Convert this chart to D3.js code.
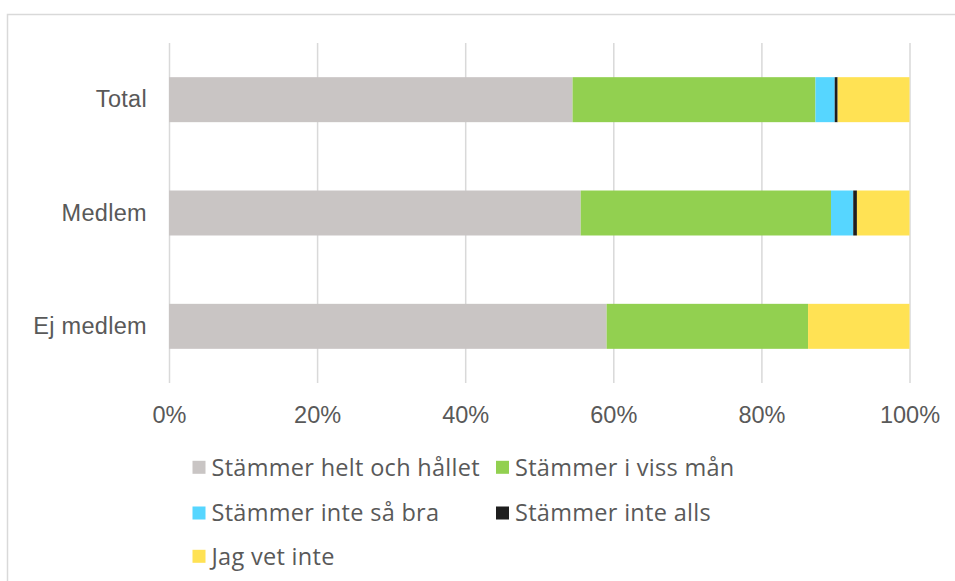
<!DOCTYPE html>
<html lang="sv">
<head>
    <meta charset="UTF-8">
    <title>Stämmer - staplat stapeldiagram</title>
    <script src="https://d3js.org/d3.v7.min.js"></script>
    <style>
        body { margin: 0; background: #fff; }
        svg { display: block; font-family: "Open Sans", sans-serif; }
        .grid line { stroke: #d9d9d9; stroke-width: 1.5; }
        .grid path, .yaxis path, .yaxis line { display: none; }
        .grid text, .yaxis text, .legend text { fill: #595959; font-size: 23.5px; }
        .yaxis text, .legend text { letter-spacing: 0.3px; }
    </style>
</head>
<body>
<script>
    // data
    const categories = ["Total", "Medlem", "Ej medlem"];
    const seriesNames = ["Stämmer helt och hållet", "Stämmer i viss mån", "Stämmer inte så bra", "Stämmer inte alls", "Jag vet inte"];
    const helt = [54.5, 55.6, 59.1];
    const viss = [32.8, 33.8, 27.2];
    const inteBra = [2.6, 3.0, 0];
    const inteAlls = [0.4, 0.5, 0];
    const vetInte = [9.7, 7.1, 13.7];
    const tickValues = [0, 20, 40, 60, 80, 100];
    const colors = ["#c9c5c4", "#92d050", "#56d6ff", "#1e1e1e", "#ffe254"];

    const W = 955, H = 581;
    const plotLeft = 169, plotRight = 909.5, plotTop = 43, plotBottom = 383;

    const svg = d3.select("body").append("svg")
        .attr("width", W)
        .attr("height", H);

    // ram runt diagrammet
    svg.append("rect")
        .attr("x", 7.5).attr("y", 14.5)
        .attr("width", W + 10).attr("height", H + 10)
        .attr("fill", "#fff")
        .attr("stroke", "#d9d9d9")
        .attr("stroke-width", 1.5);

    const x = d3.scaleLinear().domain([0, 100]).range([plotLeft, plotRight]);
    const y = d3.scaleBand().domain(categories).range([plotTop, plotBottom]).paddingInner(0.603).paddingOuter(0.3015);

    // rutnät + x-etiketter
    svg.append("g")
        .attr("class", "grid")
        .attr("transform", `translate(0, ${plotBottom})`)
        .call(d3.axisBottom(x)
            .tickValues(tickValues)
            .tickFormat(d => d + "%")
            .tickSizeInner(-(plotBottom - plotTop))
            .tickSizeOuter(0)
            .tickPadding(23));

    // y-etiketter
    svg.append("g")
        .attr("class", "yaxis")
        .attr("transform", `translate(${plotLeft}, 0)`)
        .call(d3.axisLeft(y).tickSize(0).tickPadding(22));

    // staplar
    const rows = categories.map((c, i) => ({
        cat: c, s0: helt[i], s1: viss[i], s2: inteBra[i], s3: inteAlls[i], s4: vetInte[i]
    }));
    const stack = d3.stack().keys(["s0", "s1", "s2", "s3", "s4"]);
    const layers = stack(rows);

    svg.append("g").selectAll("g")
        .data(layers)
        .join("g")
        .attr("fill", (d, i) => colors[i])
        .selectAll("rect")
        .data(d => d)
        .join("rect")
        .attr("x", d => x(d[0]))
        .attr("y", d => y(d.data.cat))
        .attr("width", d => x(d[1]) - x(d[0]))
        .attr("height", y.bandwidth());

    // förklaring
    const legendPos = [[192.5, 467.3], [496, 467.3], [192.5, 513], [496, 513], [192.5, 556.3]];
    const legend = svg.append("g").attr("class", "legend")
        .selectAll("g")
        .data(seriesNames)
        .join("g")
        .attr("transform", (d, i) => `translate(${legendPos[i][0]}, ${legendPos[i][1]})`);

    legend.append("rect")
        .attr("x", 0).attr("y", -6.5)
        .attr("width", 13).attr("height", 13)
        .attr("fill", (d, i) => colors[i]);

    legend.append("text")
        .attr("x", 19)
        .attr("dy", "0.35em")
        .text(d => d);
</script>
</body>
</html>
